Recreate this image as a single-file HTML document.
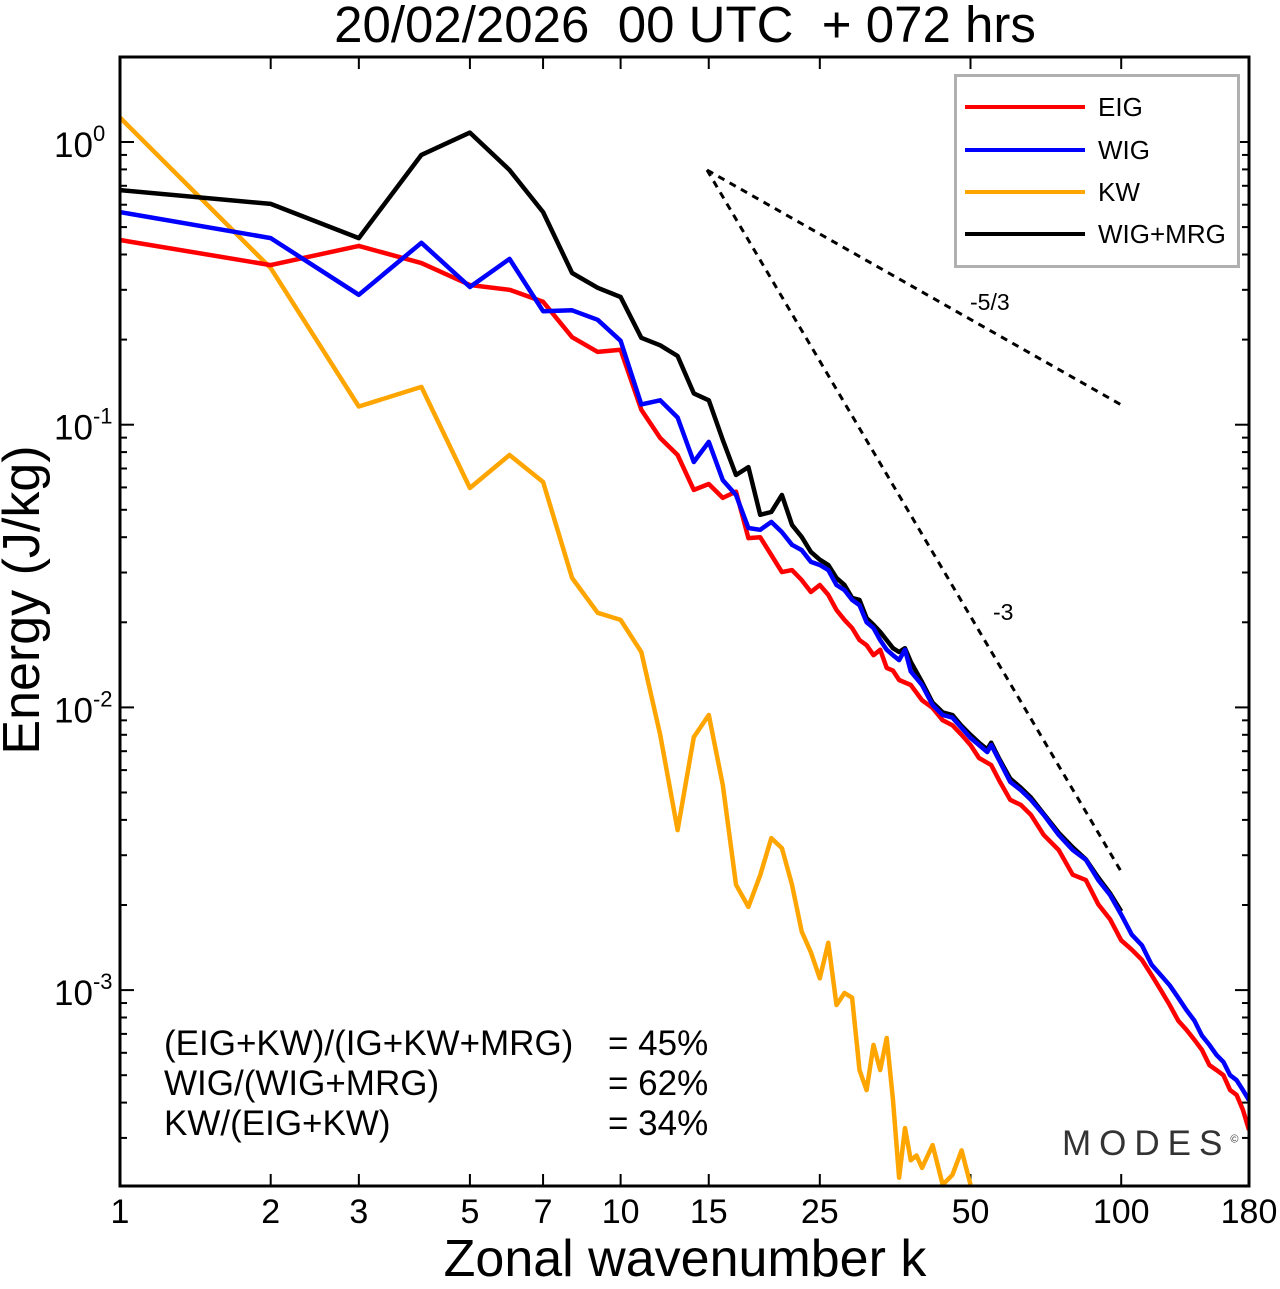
<!DOCTYPE html>
<html><head><meta charset="utf-8"><style>
body{margin:0;background:#fff;}
svg{display:block;font-family:"Liberation Sans",sans-serif;}
.le{position:absolute;left:8px;height:30px;display:flex;align-items:center;}
.le span.ln{display:inline-block;width:120px;height:4px;margin-right:13px;}
</style></head><body>
<svg id="chart" width="1280" height="1281"></svg>
<script>
const kRed=[1,2,3,4,5,6,7,8,9,10,11,12,13,14,15,16,17,18,19,20,21,22,23,24,25,26,27,28,29,30,31,32,33,34,35,36,38,40,42,44,46,48,50,52,55,57,60,63,66,70,75,80,85,90,95,100,105,110,115,120,125,130,135,140,145,150,155,160,165,170,175,180];
const vRed=[0.45,0.367,0.429,0.373,0.312,0.30,0.272,0.204,0.181,0.184,0.113,0.0897,0.0781,0.0588,0.0617,0.0551,0.058,0.0397,0.040,0.0346,0.0301,0.0306,0.0282,0.0256,0.0271,0.025,0.0221,0.0204,0.0191,0.0173,0.0166,0.0153,0.016,0.0138,0.0135,0.0125,0.012,0.0106,0.00995,0.009,0.00865,0.008,0.00736,0.00662,0.00625,0.00553,0.00471,0.00452,0.00417,0.00354,0.00313,0.00256,0.00245,0.00201,0.00178,0.0015,0.00139,0.00128,0.00113,0.001,0.000886,0.00078,0.000723,0.000667,0.000614,0.000543,0.000521,0.0005,0.000443,0.000426,0.000377,0.00032];
const kBlue=[1,2,3,4,5,6,7,8,9,10,11,12,13,14,15,16,17,18,19,20,21,22,23,24,25,26,27,28,29,30,31,32,33,34,35,36,37,38,40,42,44,46,48,50,52,54,55,57,60,63,66,70,75,80,85,90,95,100,105,110,115,120,125,130,135,140,145,150,155,160,165,170,175,180];
const vBlue=[0.565,0.457,0.288,0.44,0.307,0.386,0.252,0.254,0.235,0.198,0.118,0.122,0.106,0.0738,0.0869,0.0637,0.0564,0.0431,0.0425,0.0453,0.0417,0.0376,0.036,0.0327,0.0319,0.0306,0.0271,0.026,0.024,0.023,0.020,0.0191,0.0173,0.016,0.0153,0.0147,0.016,0.0134,0.012,0.0102,0.0094,0.0092,0.00846,0.0078,0.00736,0.00695,0.00736,0.00652,0.00545,0.0051,0.00471,0.00417,0.00354,0.00313,0.00289,0.00245,0.00217,0.00185,0.00157,0.00144,0.00123,0.00113,0.00104,0.00094,0.00085,0.00078,0.00069,0.00064,0.00059,0.000557,0.0005,0.00048,0.000443,0.000408];
const kBlack=[1,2,3,4,5,6,7,8,9,10,11,12,13,14,15,16,17,18,19,20,21,22,23,24,25,26,27,28,29,30,31,32,33,35,36,37,38,40,42,44,46,48,50,52,54,55,57,60,63,66,70,75,80,85,90,95,100];
const vBlack=[0.676,0.604,0.457,0.90,1.08,0.796,0.565,0.344,0.305,0.283,0.203,0.191,0.175,0.129,0.122,0.0883,0.0664,0.0708,0.048,0.0491,0.0564,0.0442,0.0401,0.0355,0.0333,0.0319,0.0287,0.0271,0.0244,0.024,0.0207,0.0196,0.0185,0.0162,0.0157,0.0162,0.0145,0.0123,0.0104,0.0096,0.0094,0.0086,0.0080,0.0075,0.0071,0.0075,0.0066,0.0056,0.0052,0.0048,0.0042,0.0036,0.0032,0.0029,0.0025,0.0022,0.0019];
const kKW=[1,2,3,4,5,6,7,8,9,10,11,12,13,14,15,16,17,18,19,20,21,22,23,24,25,26,27,28,29,30,31,32,33,34,35,36,37,38,39,40,42,44,46,48,50];
const vKW=[1.22,0.358,0.116,0.136,0.0597,0.0781,0.0627,0.0287,0.0216,0.0204,0.0157,0.008,0.00368,0.00785,0.0094,0.00531,0.00236,0.00197,0.00255,0.00345,0.00318,0.00236,0.00161,0.00136,0.0011,0.00147,0.000886,0.000977,0.00094,0.000521,0.000443,0.00064,0.000521,0.000677,0.000408,0.000217,0.000325,0.00025,0.00026,0.000235,0.000283,0.000205,0.000222,0.000271,0.000205];
const xTicks=[1,2,3,5,7,10,15,25,50,100,180];
const yExps=[0,-1,-2,-3];

const L=120,R=1249,T=57,B=1186;
const xs=k=>L+(R-L)*Math.log10(k)/Math.log10(180);
const ys=v=>142-282.7*Math.log10(v);
const svg=document.getElementById('chart');
const NS='http://www.w3.org/2000/svg';
function mk(tag,attrs,parent){const e=document.createElementNS(NS,tag);for(const a in attrs)e.setAttribute(a,attrs[a]);(parent||svg).appendChild(e);return e;}

const defs=mk('defs',{});
const cp=mk('clipPath',{id:'clip'},defs);
mk('rect',{x:L,y:T,width:R-L,height:B-T},cp);

const tg=mk('g',{stroke:'#000','stroke-width':2});


for(let e=-4;e<=1;e++){for(let m=1;m<10;m++){const y=ys(m*Math.pow(10,e));if(y<T||y>B)continue;const len=m===1?14:7;
mk('line',{x1:L,x2:L+len,y1:y,y2:y},tg);mk('line',{x1:R,x2:R-len,y1:y,y2:y},tg);}}
xTicks.forEach(k=>{const x=xs(k);mk('line',{x1:x,x2:x,y1:B,y2:B-12},tg);mk('line',{x1:x,x2:x,y1:T,y2:T+12},tg);});

xTicks.forEach(k=>{const t=mk('text',{x:xs(k),y:1223,'font-size':34,'text-anchor':'middle'});t.textContent=k;

});
yExps.forEach(e=>{const y=ys(Math.pow(10,e));const t=mk('text',{x:54,y:y+15,'font-size':35});t.textContent='10';
const s=mk('tspan',{dy:-16,'font-size':22},t);s.textContent=String(e);

});

const rg=mk('g',{stroke:'#000','stroke-width':3,'stroke-dasharray':'7,6',fill:'none'});
const s1=mk('line',{x1:707,y1:170,x2:1125,y2:407},rg);


const s2=mk('line',{x1:707,y1:170,x2:1122,y2:873},rg);


let t1=mk('text',{x:970,y:310,'font-size':23});t1.textContent='-5/3';


let t2=mk('text',{x:993,y:620,'font-size':23});t2.textContent='-3';



const lg=mk('g',{'clip-path':'url(#clip)',fill:'none','stroke-width':4.5,'stroke-linejoin':'round'});
function series(ks,vs,color){const d=ks.map((k,i)=>(i?'L':'M')+xs(k).toFixed(1)+','+ys(vs[i]).toFixed(1)).join('');
return mk('path',{d:d,stroke:color},lg);}
let p;
p=series(kKW,vKW,'#ffa500');


p=series(kRed,vRed,'#ff0000');


p=series(kBlack,vBlack,'#000000');


p=series(kBlue,vBlue,'#0000ff');



const fr=mk('rect',{x:L,y:T,width:R-L,height:B-T,fill:'none',stroke:'#000','stroke-width':3});


</script>
<div style="position:absolute;left:0;top:0;width:1280px;height:1281px;pointer-events:none;font-family:'Liberation Sans',sans-serif;">
<div style="position:absolute;left:0;width:1370px;text-align:center;top:-5px;font-size:51px;white-space:pre;">20/02/2026  00 UTC  + 072 hrs</div>
<div style="position:absolute;left:0;width:1370px;text-align:center;top:1229px;font-size:52px;">Zonal wavenumber k</div>
<div style="position:absolute;left:-198px;top:570px;width:440px;height:60px;line-height:60px;text-align:center;font-size:52px;transform:rotate(-90deg);">Energy (J/kg)</div>
<div style="position:absolute;left:954px;top:74px;width:280px;height:188px;border:3px solid #b0b0b0;background:#fff;font-size:26px;">
 <div class="le" style="top:15px;"><span class="ln" style="background:#f00;"></span><span>EIG</span></div>
 <div class="le" style="top:58px;"><span class="ln" style="background:#00f;"></span><span>WIG</span></div>
 <div class="le" style="top:100px;"><span class="ln" style="background:#ffa500;"></span><span>KW</span></div>
 <div class="le" style="top:142px;"><span class="ln" style="background:#000;"></span><span style="white-space:nowrap;">WIG+MRG</span></div>
</div>
<div style="position:absolute;left:164px;top:1024px;font-size:35px;line-height:40px;white-space:nowrap;">
 <div>(EIG+KW)/(IG+KW+MRG)<span style="position:absolute;left:444px;">= 45%</span></div>
 <div>WIG/(WIG+MRG)<span style="position:absolute;left:444px;">= 62%</span></div>
 <div>KW/(EIG+KW)<span style="position:absolute;left:444px;">= 34%</span></div>
</div>
<div style="position:absolute;left:1062px;top:1124px;font-size:35px;letter-spacing:8px;color:#333;">MODES<sup style="font-size:11px;letter-spacing:0;">©</sup></div>
</div>
</body></html>
